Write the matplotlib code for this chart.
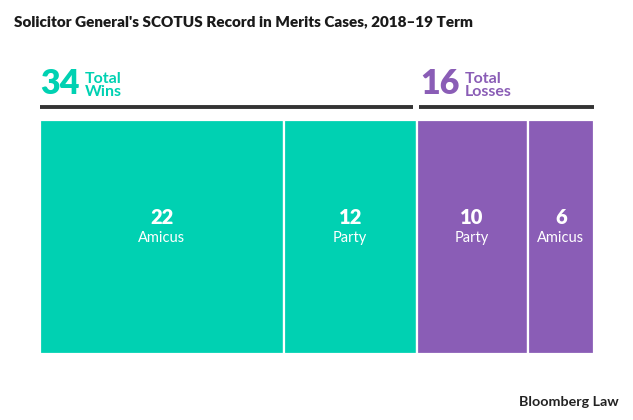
import numpy as np
import matplotlib.pyplot as plt
import matplotlib.transforms as mtransforms

plt.rcParams['font.family'] = ['Lato', 'DejaVu Sans']

title = "Solicitor General's SCOTUS Record in Merits Cases, 2018\u201319 Term"
groups = ['Wins', 'Losses']
group_totals = [34, 16]
seg_values = [22, 12, 10, 6]
seg_labels = ['Amicus', 'Party', 'Party', 'Amicus']
seg_group = [0, 0, 1, 1]

teal = '#00d1b2'
purple = '#8a5db6'
group_colors = [teal, purple]

W, H = 633, 420
fig = plt.figure(figsize=(W / 100, H / 100), dpi=100)

# bar area in pixels: x 40..594, y 120..354
ax = fig.add_axes([40 / W, 66 / H, 554 / W, 234 / H])
lefts = np.concatenate([[0], np.cumsum(seg_values)[:-1]])
colors = [group_colors[g] for g in seg_group]
ax.barh(0, seg_values, left=lefts, height=1, color=colors,
        edgecolor='white', linewidth=1.6, align='edge')
ax.set_xlim(0, sum(seg_values))
ax.set_ylim(0, 1)
ax.axis('off')

for l, v, lab in zip(lefts, seg_values, seg_labels):
    ax.text(l + v / 2, 0.585, str(v), ha='center', va='center',
            color='white', fontsize=14.5, fontweight='heavy')
    ax.text(l + v / 2, 0.495, lab, ha='center', va='center',
            color='white', fontsize=10.5)

# group headers
trans = mtransforms.blended_transform_factory(ax.transData, fig.transFigure)
gstart = 0
for i, (g, tot) in enumerate(zip(groups, group_totals)):
    x0 = gstart + (0 if i == 0 else 0.3)
    num = ax.text(x0, (H - 94) / H, str(tot), transform=trans, ha='left',
                  va='baseline', color=group_colors[i], fontsize=24.5,
                  fontweight='heavy')
    ax.annotate('Total\n' + g, xy=(1, 0.04), xycoords=num, xytext=(4, 0),
                textcoords='offset points', ha='left', va='bottom',
                color=group_colors[i], fontsize=11.5, fontweight='bold',
                linespacing=0.9)
    xs = gstart + (0 if i == 0 else 0.2)
    xe = gstart + tot - (0.3 if i == 0 else 0)
    ax.plot([xs, xe], [(H - 107) / H] * 2, transform=trans, color='#333333',
            lw=2.8, clip_on=False, solid_capstyle='butt')
    gstart += tot

fig.text(14 / W, 1 - 22 / H, title, ha='left', va='center',
         fontsize=11.0, fontweight='heavy', color='#1a1a1a')
fig.text(619 / W, 1 - 402 / H, 'Bloomberg Law', ha='right', va='center',
         fontsize=10.3, fontweight='bold', color='#222222')

fig.savefig('out.png', dpi=100)
